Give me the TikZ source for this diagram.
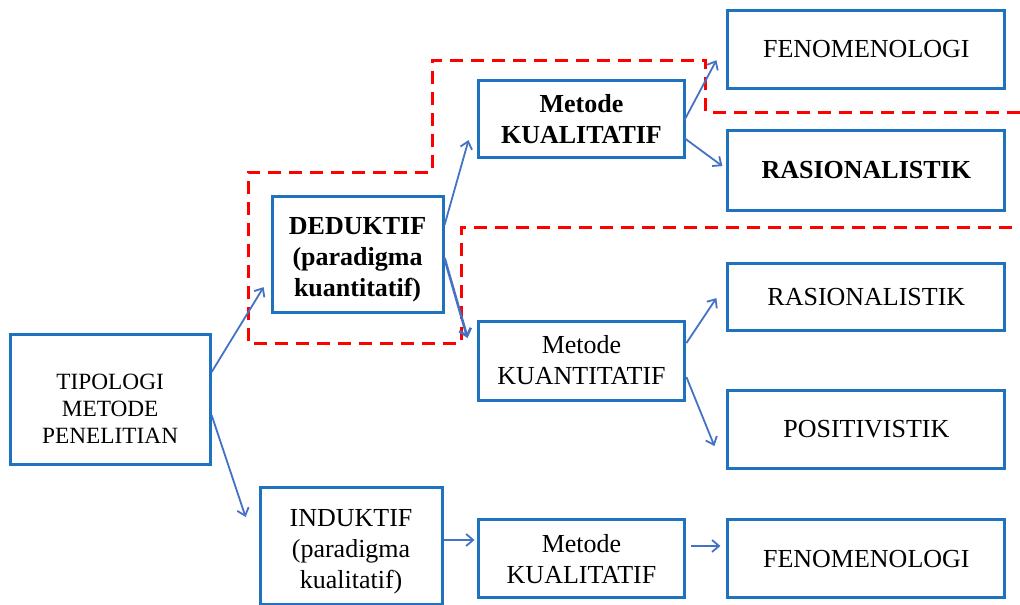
\documentclass[tikz,border=0pt]{standalone}
\usepackage{fontspec}
\setmainfont{Liberation Serif}
\usepackage{xcolor}
\usetikzlibrary{arrows.meta}
\definecolor{boxblue}{RGB}{31,114,190}
\definecolor{arrowblue}{RGB}{68,114,196}
\tikzset{
  kotak/.style={draw=boxblue, line width=3pt, fill=white, align=center, inner sep=0pt,
    font=\fontsize{26}{31}\selectfont},
  panah/.style={draw=arrowblue, line width=1.8pt, -{Straight Barb[length=7pt,width=12pt]}},
  batas/.style={draw=red, line width=3pt, dash pattern=on 13pt off 8pt}
}
\begin{document}
\begin{tikzpicture}[scale=1.000000,x=1pt,y=-1pt]
\filldraw[color=white] (0.000000, 0.000000) rectangle (1020.000000, 604.000000);
\useasboundingbox (0.000000, 0.000000) rectangle (1020.000000, 604.000000);
% Drawing boundary of the deductive branch
\draw[batas] (1020.000000,112.000000) -- (706.000000,112.000000) -- (706.000000,60.000000)
  -- (432.000000,60.000000) -- (432.000000,172.000000) -- (248.000000,172.000000)
  -- (248.000000,343.000000) -- (461.000000,343.000000) -- (461.000000,227.000000)
  -- (1020.000000,227.000000);
% Drawing boxes
\node[kotak, minimum width=200pt, minimum height=130pt, font=\fontsize{23.3}{27}\selectfont] (tipologi) at (110.000000,399.000000) {\rule{0pt}{34pt}TIPOLOGI\\METODE\\PENELITIAN};
\node[kotak, minimum width=171pt, minimum height=116pt, font=\fontsize{26}{31}\selectfont\bfseries] (deduktif) at (357.500000,254.000000) {\rule{0pt}{28pt}DEDUKTIF\\(paradigma\\kuantitatif)};
\node[kotak, minimum width=182pt, minimum height=118pt] (induktif) at (351.000000,546.000000) {\rule{0pt}{28pt}INDUKTIF\\(paradigma\\kualitatif)};
\node[kotak, minimum width=207pt, minimum height=77pt, font=\fontsize{26}{31}\selectfont\bfseries] (kualA) at (581.500000,118.500000) {Metode\\KUALITATIF};
\node[kotak, minimum width=207pt, minimum height=79pt] (kuanti) at (581.500000,360.500000) {Metode\\KUANTITATIF};
\node[kotak, minimum width=207pt, minimum height=78pt] (kualB) at (581.500000,559.000000) {Metode\\KUALITATIF};
\node[kotak, minimum width=277pt, minimum height=78pt] (fenoA) at (866.500000,49.000000) {FENOMENOLOGI};
\node[kotak, minimum width=277pt, minimum height=80pt, font=\fontsize{26}{31}\selectfont\bfseries] (rasioA) at (866.500000,170.000000) {RASIONALISTIK};
\node[kotak, minimum width=277pt, minimum height=67pt] (rasioB) at (866.500000,296.500000) {RASIONALISTIK};
\node[kotak, minimum width=277pt, minimum height=78pt] (posi) at (866.500000,429.000000) {POSITIVISTIK};
\node[kotak, minimum width=277pt, minimum height=78pt] (fenoB) at (866.500000,559.000000) {FENOMENOLOGI};
% Done with boxes; drawing arrows
\draw[panah] ([yshift=27pt]tipologi.east) -- ([xshift=-7pt,yshift=-33pt]deduktif.west);
\draw[panah] ([yshift=-16pt]tipologi.east) -- ([xshift=-13pt,yshift=29pt]induktif.west);
\draw[panah] ([yshift=29pt]deduktif.east) -- ([xshift=-8pt,yshift=-21.5pt]kualA.west);
\draw[panah, line width=2.6pt] ([yshift=-4pt]deduktif.east) -- ([xshift=-9pt,yshift=22.5pt]kuanti.west);
\draw[panah] ([yshift=6pt]induktif.east) -- ([xshift=-2pt,yshift=19pt]kualB.west);
\draw[panah] ([xshift=-2pt,yshift=-1.5pt]kualA.east) -- ([xshift=-10pt,yshift=-11pt]fenoA.west);
\draw[panah] ([xshift=-2pt,yshift=-19.5pt]kualA.east) -- ([xshift=-4pt,yshift=4pt]rasioA.west);
\draw[panah] ([yshift=17.5pt]kuanti.east) -- ([xshift=-10pt,yshift=-1.5pt]rasioB.west);
\draw[panah] ([yshift=-16.5pt]kuanti.east) -- ([xshift=-12pt,yshift=-17pt]posi.west);
\draw[panah] ([xshift=5pt,yshift=13pt]kualB.east) -- ([xshift=-6pt,yshift=13pt]fenoB.west);
% Done with arrows
\end{tikzpicture}
\end{document}
